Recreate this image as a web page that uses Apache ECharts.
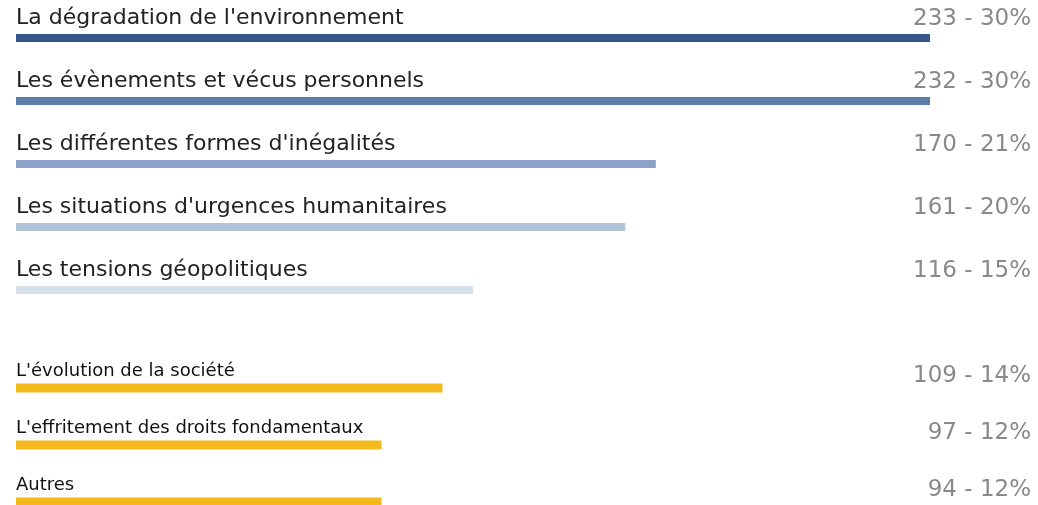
<!DOCTYPE html>
<html><head><meta charset="utf-8">
<script src="https://cdn.jsdelivr.net/npm/echarts@6/dist/echarts.min.js"></script>
<style>html,body{margin:0;padding:0;background:#fff}#c{width:1038px;height:505px}</style>
</head><body><div id="c"></div>
<script>
const catsTop = ["La dégradation de l'environnement","Les évènements et vécus personnels","Les différentes formes d'inégalités","Les situations d'urgences humanitaires","Les tensions géopolitiques"];
const countsTop = [233,232,170,161,116];
const pctTop = [30,30,21,20,15];
const colorsTop = ['#34588b','#5a7dab','#8ba3c8','#b3c4da','#d8e0ea'];
const catsBot = ["L'évolution de la société","L'effritement des droits fondamentaux","Autres"];
const countsBot = [109,97,94];
const pctBot = [14,12,12];
const colorBot = '#f4b91c';

const FONT = 'DejaVu Sans';
const chart = echarts.init(document.getElementById('c'));
const valLabels = (c,p)=>c.map((v,i)=>v+' - '+p[i]+'%');
chart.setOption({
  animation:false,
  grid:[{left:16,width:914,top:6.5,height:315,outerBoundsMode:'none'},
        {left:16,width:914,top:359.5,height:171,outerBoundsMode:'none'}],
  xAxis:[{gridIndex:0,type:'value',min:0,max:30,show:false},{gridIndex:1,type:'value',min:0,max:30,show:false}],
  yAxis:[
    {gridIndex:0,type:'category',inverse:true,data:catsTop,show:false},
    {gridIndex:0,type:'category',inverse:true,position:'right',data:valLabels(countsTop,pctTop),
     axisLine:{show:false},axisTick:{show:false},
     axisLabel:{align:'right',margin:101,fontFamily:FONT,fontSize:23,color:'#898989',verticalAlign:'bottom',padding:[0,0,7,0]}},
    {gridIndex:1,type:'category',inverse:true,data:catsBot,show:false},
    {gridIndex:1,type:'category',inverse:true,position:'right',data:valLabels(countsBot,pctBot),
     axisLine:{show:false},axisTick:{show:false},
     axisLabel:{align:'right',margin:101,fontFamily:FONT,fontSize:23,color:'#898989',verticalAlign:'bottom',padding:[0,0,0,0]}}
  ],
  series:[
    {type:'bar',xAxisIndex:0,yAxisIndex:0,barWidth:8,
     data:pctTop.map((v,i)=>({value:v,name:catsTop[i],itemStyle:{color:colorsTop[i]}})),
     label:{show:true,position:[0,-27],formatter:p=>catsTop[p.dataIndex],fontFamily:FONT,fontSize:22,color:'#222'}},
    {type:'bar',xAxisIndex:1,yAxisIndex:2,barWidth:9,itemStyle:{color:colorBot},
     data:pctBot,
     label:{show:true,position:[0,-21],formatter:p=>catsBot[p.dataIndex],fontFamily:FONT,fontSize:18,color:'#111'}}
  ]
});
</script></body></html>
